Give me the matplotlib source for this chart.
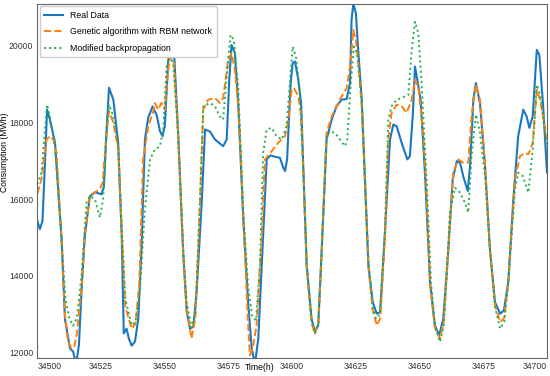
import matplotlib
matplotlib.use("Agg")
import matplotlib.pyplot as plt

plt.rcParams['font.family'] = ['Liberation Sans', 'DejaVu Sans']
plt.rcParams['font.size'] = 6.2

# Real data (hour, MWh)
real_x = [34500, 34501, 34502, 34503, 34503.8, 34504.9, 34506.9, 34509.5, 34510.8, 34512.8,
          34514, 34515.2, 34516.3, 34517.3, 34518.6, 34520.6, 34522.6, 34525.2, 34526.1, 34526.9,
          34528.1, 34529.8, 34531.7, 34533.1, 34533.9, 34535, 34535.9, 34537, 34538.3, 34539.6,
          34540.9, 34542.2, 34543.5, 34545.2, 34546.8, 34548.1, 34549.1, 34550, 34551.3, 34552.3,
          34553.6, 34555.3, 34557.2, 34558.6, 34559.9, 34561.2, 34562.5, 34564.5, 34565.8, 34567.7,
          34569.7, 34572.9, 34574.3, 34575.3, 34576.2, 34577.5, 34578.8, 34580.8, 34582.7, 34584.1,
          34585.4, 34586.7, 34588.6, 34590, 34591.5, 34593.2, 34595.2, 34596.5, 34597.2, 34598,
          34599.4, 34600.2, 34601.1, 34602.4, 34603.5, 34604.5, 34605.7, 34607.6, 34608.9, 34610.2,
          34611.6, 34613.5, 34615.5, 34617.4, 34619.4, 34621.4, 34622.7, 34623.3, 34624, 34625,
          34625.9, 34627.3, 34628.6, 34629.9, 34631.6, 34633.2, 34634.5, 34636.4, 34638.4, 34639.7,
          34641, 34643.3, 34645.2, 34646.2, 34647.3, 34648.2, 34649.1, 34650.4, 34652.1, 34654.1,
          34656, 34657.7, 34659.3, 34661.3, 34663, 34664.6, 34665.9, 34667.1, 34668.9, 34669.8,
          34671.1, 34672.1, 34673.7, 34675.7, 34677.6, 34679.6, 34681.6, 34683.1, 34684.8, 34686.8,
          34688.7, 34690.7, 34692, 34693.1, 34694.4, 34696, 34697, 34698.5, 34700]
real_y = [15430, 15220, 15440, 17000, 18338, 18078, 17481, 14962, 12884, 12105,
          12027, 11700, 12200, 13585, 15040, 16078, 16182, 16130, 16338, 17481,
          18909, 18598, 17481, 15000, 12500, 12624, 12365, 12180, 12287, 12884,
          14780, 17559, 18130, 18420, 18200, 17780, 17645, 17904, 19558, 20338,
          19896, 17645, 14624, 13066, 12624, 12676, 13585, 15923, 17819, 17767,
          17559, 17385, 17559, 19117, 20026, 19818, 18520, 15481, 13326, 12105,
          11700, 12365, 15040, 17040, 17143, 17110, 17080, 16824, 16736, 17040,
          19031, 19551, 19593, 19117, 18500, 16600, 14269, 12884, 12539, 12711,
          14702, 17559, 18078, 18424, 18598, 18616, 19031, 20675, 21109, 20849,
          19896, 18598, 16442, 14269, 13318, 13014, 13058, 15136, 17559, 17948,
          17904, 17400, 17040, 17125, 18164, 19463, 19117, 18598, 16694, 13837,
          12711, 12450, 12884, 14702, 16520, 16995, 16954, 16606, 16216, 16865,
          18598, 19031, 18511, 16865, 14702, 13318, 13014, 13100, 13837, 15999,
          17645, 18338, 18164, 17863, 18164, 19896, 19766, 18424, 16700]

# Genetic algorithm with RBM network
ga_x = [34500, 34501.6, 34503.6, 34504.9, 34506.2, 34507.5, 34509.5, 34510.8, 34512, 34513.4,
        34514.5, 34515.5, 34517.3, 34518.6, 34520.6, 34522.6, 34524.5, 34525.6, 34527, 34528.1,
        34529.8, 34531.7, 34533.1, 34534.5, 34537, 34538.5, 34540, 34541.5, 34543.5, 34545.5,
        34546.1, 34547.4, 34548.7, 34550, 34551.3, 34552.3, 34553.6, 34555.3, 34557.2, 34558.6,
        34560.5, 34562, 34563.8, 34565.1, 34567, 34569.7, 34571.6, 34572.9, 34574.9, 34576.2,
        34577.5, 34579, 34581, 34582.5, 34583.4, 34584.5, 34586, 34588, 34589.3, 34591.3,
        34594.5, 34597.2, 34598.5, 34599.8, 34600.7, 34602.4, 34603.5, 34604.5, 34605.7, 34607.5,
        34608.9, 34610.3, 34611.6, 34613.5, 34615.5, 34617.4, 34619.4, 34621.4, 34622.7, 34624,
        34625, 34626, 34627.3, 34628.6, 34630, 34631.6, 34633.2, 34634.6, 34636.4, 34637.7,
        34639, 34641, 34643, 34644.9, 34646.9, 34648.2, 34649.5, 34651.4, 34652.5, 34654.1,
        34656, 34658, 34659.5, 34661.3, 34663.2, 34665.2, 34667.1, 34669.1, 34670.4, 34672.1,
        34673.7, 34675.7, 34677.6, 34679.6, 34681.6, 34683.2, 34684.8, 34687.4, 34689.4, 34691.4,
        34692.7, 34694.4, 34696, 34697.3, 34700]
ga_y = [16150, 16520, 17559, 17645, 17559, 17221, 14900, 13000, 12300, 12105,
        12150, 12500, 13700, 15100, 16100, 16182, 16260, 16442, 17600, 18294,
        18000, 17300, 15200, 13200, 12624, 12750, 13800, 17040, 17904, 18294,
        18511, 18338, 18511, 18338, 19377, 19723, 19551, 17600, 14624, 13100,
        12365, 12900, 15923, 18338, 18598, 18641, 18511, 18641, 19636, 19810,
        19377, 18300, 15300, 13000, 11930, 12100, 12700, 15000, 17040, 17200,
        17473, 17645, 18078, 18857, 18901, 18683, 18200, 16500, 14200, 12800,
        12495, 12800, 14700, 17733, 18164, 18424, 18683, 18901, 19463, 20416,
        20156, 19500, 18400, 16400, 14200, 13100, 12711, 12900, 15000, 17559,
        18252, 18468, 18424, 18252, 18598, 19117, 18943, 17733, 16500, 13800,
        12650, 12365, 12800, 14700, 16694, 17040, 16954, 16954, 18164, 18987,
        18598, 16865, 14702, 13250, 12798, 12900, 13837, 16520, 17125, 17213,
        17169, 17473, 18857, 18598, 17559]

# Modified backpropagation
bp_x = [34500, 34501.6, 34502.9, 34503.8, 34504.9, 34506.9, 34509.5, 34511, 34512.5, 34514,
        34515.5, 34517.3, 34519.3, 34520.6, 34522.6, 34524.5, 34525.8, 34527.2, 34528.1, 34529.8,
        34531.7, 34533.1, 34534.5, 34537, 34538.5, 34540.2, 34542.2, 34544.2, 34546.1, 34548.1,
        34549.4, 34550.7, 34552, 34553.3, 34555.3, 34557.2, 34558.6, 34560.5, 34562, 34563.8,
        34565.1, 34567.7, 34569.7, 34571.6, 34572.9, 34574.5, 34575.8, 34577.1, 34578.8, 34580.8,
        34582.7, 34584.3, 34585.8, 34587.3, 34588.6, 34590, 34591.9, 34593.9, 34595.9, 34597.8,
        34599.1, 34600.2, 34601.5, 34603, 34604.3, 34605.7, 34607.6, 34608.9, 34610.3, 34611.6,
        34613.5, 34614.8, 34616.8, 34618.7, 34620.7, 34621.6, 34623, 34624.2, 34625.5, 34627.3,
        34628.6, 34630, 34631.6, 34632.9, 34634.5, 34636.4, 34637.7, 34639, 34641, 34643,
        34644.3, 34645.6, 34646.9, 34648.2, 34649.5, 34650.8, 34652.8, 34654.5, 34656, 34658,
        34659.5, 34660.8, 34661.9, 34663.9, 34665.8, 34667.8, 34669.1, 34670.4, 34672.1, 34673.7,
        34675.7, 34677.6, 34679.6, 34681.6, 34683.2, 34684.8, 34687.4, 34688.7, 34690.5, 34692.7,
        34694.4, 34696, 34697.5, 34700]
bp_y = [16390, 16694, 17733, 18468, 18164, 17400, 14900, 13400, 12900, 12700,
        12900, 14000, 15915, 16086, 16000, 15525, 16000, 17904, 18468, 18164,
        17400, 15300, 13400, 12711, 12800, 13600, 15741, 17040, 17299, 17385,
        17819, 19463, 19723, 19551, 17600, 14700, 13300, 12650, 13000, 15900,
        18424, 18511, 18424, 18164, 18078, 19377, 20286, 20156, 18943, 15700,
        13700, 12950, 12840, 14200, 17213, 17819, 17863, 17645, 17559, 17904,
        19031, 19982, 19723, 18771, 16800, 14300, 12850, 12495, 12750, 14700,
        17645, 17775, 17733, 17559, 17385, 17559, 19031, 19982, 19810, 18598,
        16500, 14300, 13200, 12884, 13000, 15100, 18078, 18424, 18598, 18641,
        18683, 18727, 19896, 20631, 20330, 19031, 16434, 13800, 12700, 12279,
        12700, 14200, 15655, 16304, 16174, 15915, 15655, 17125, 18208, 17733,
        16606, 14700, 13200, 12624, 12800, 13800, 16260, 16694, 16606, 16174,
        17299, 18987, 18683, 17299]

fig = plt.figure(figsize=(5.5, 3.76), dpi=100)
ax = fig.add_axes([0.068, 0.049, 0.9265, 0.94])

ax.plot(real_x, real_y, color='#1a78c2', lw=1.5, label='Real Data')
ax.plot(ga_x, ga_y, color='#ff7f0e', lw=1.4, ls='--', label='Genetic algorithm with RBM network')
ax.plot(bp_x, bp_y, color='#1fb04a', lw=1.4, ls=':', label='Modified backpropagation')

ax.set_xlim(34500, 34700)
ax.set_ylim(11870, 21090)
ax.set_xticks(range(34500, 34701, 25))
ax.set_yticks(range(12000, 20001, 2000))
ax.tick_params(length=0, pad=3, labelsize=6.2, colors='#333333')
for s in ax.spines.values():
    s.set_color('#666666')
    s.set_linewidth(0.8)

ax.set_xlabel('Time(h)', fontsize=6.2)
ax.xaxis.set_label_coords(0.437, -0.015)
ax.set_ylabel('Consumption (MWh)', fontsize=6.2)
ax.yaxis.set_label_coords(-0.055, 0.58)

fig.canvas.draw()
xl = ax.get_xticklabels()
xl[0].set_ha('left')
xl[-1].set_ha('right')

ax.legend(loc='upper left', fontsize=6.3, handlelength=2.2, labelspacing=0.88,
          borderpad=0.5, borderaxespad=0.25, edgecolor='#cccccc', fancybox=True, framealpha=1)

fig.savefig('out.png', dpi=100)
